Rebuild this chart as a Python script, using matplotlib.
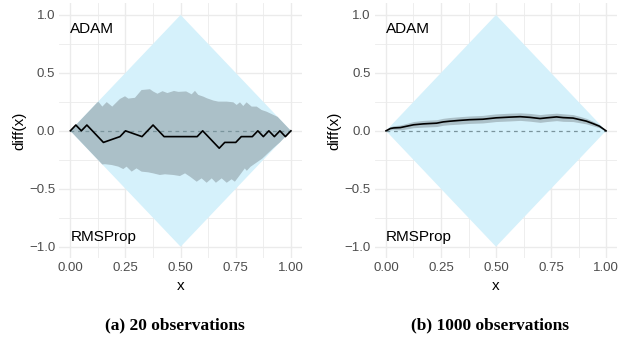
import matplotlib
matplotlib.use("Agg")
import matplotlib.pyplot as plt
import numpy as np

# diamond bounds of diff(x)
diamond_x = [0.0, 0.5, 1.0, 0.5]
diamond_y = [0.0, 1.0, 0.0, -1.0]

# (a) 20 observations
line20_x = [0, 0.025, 0.05, 0.075, 0.15, 0.225, 0.25, 0.325, 0.375, 0.425, 0.575, 0.6,
            0.675, 0.7, 0.75, 0.775, 0.825, 0.85, 0.875, 0.9, 0.925, 0.95, 0.975, 1.0]
line20_y = [0, 0.05, 0, 0.05, -0.10, -0.05, 0, -0.05, 0.05, -0.05, -0.05, 0,
            -0.15, -0.10, -0.10, -0.05, -0.05, 0, -0.05, 0, -0.05, 0, -0.05, 0]
upper20_x = [0, 0.12, 0.127, 0.145, 0.165, 0.19, 0.225, 0.248, 0.263, 0.293, 0.323, 0.361,
             0.376, 0.395, 0.418, 0.44, 0.47, 0.49, 0.525, 0.55, 0.565, 0.58, 0.603, 0.619,
             0.649, 0.671, 0.709, 0.739, 0.754, 0.769, 0.784, 0.799, 0.822, 0.845, 0.867,
             0.89, 0.94, 1.0]
upper20_y = [0, 0.24, 0.252, 0.209, 0.248, 0.209, 0.275, 0.298, 0.278, 0.285, 0.352, 0.359,
             0.339, 0.32, 0.342, 0.326, 0.344, 0.336, 0.34, 0.315, 0.345, 0.31, 0.295, 0.281,
             0.261, 0.252, 0.252, 0.246, 0.223, 0.246, 0.214, 0.246, 0.209, 0.209, 0.18,
             0.165, 0.12, 0]
lower20_x = [0, 0.145, 0.157, 0.188, 0.218, 0.24, 0.255, 0.278, 0.30, 0.323, 0.353, 0.376,
             0.406, 0.429, 0.467, 0.497, 0.52, 0.543, 0.573, 0.595, 0.618, 0.641, 0.66,
             0.686, 0.709, 0.731, 0.746, 0.769, 0.791, 0.80, 0.817, 0.87, 0.92, 0.95, 1.0]
lower20_y = [0, -0.29, -0.288, -0.295, -0.309, -0.33, -0.309, -0.352, -0.324, -0.352, -0.358,
             -0.367, -0.381, -0.375, -0.381, -0.39, -0.367, -0.396, -0.439, -0.41, -0.448,
             -0.41, -0.448, -0.41, -0.448, -0.418, -0.439, -0.381, -0.324, -0.345, -0.31,
             -0.24, -0.15, -0.1, 0]

# (b) 1000 observations
line1000_x = [0, 0.02, 0.035, 0.065, 0.095, 0.125, 0.17, 0.23, 0.26, 0.29, 0.335, 0.38, 0.44,
              0.47, 0.5, 0.56, 0.61, 0.655, 0.70, 0.73, 0.775, 0.805, 0.85, 0.88, 0.91, 0.94,
              0.97, 1.0]
line1000_y = [0, 0.02, 0.025, 0.028, 0.04, 0.052, 0.06, 0.066, 0.077, 0.083, 0.09, 0.096, 0.1,
              0.106, 0.112, 0.118, 0.122, 0.116, 0.106, 0.112, 0.12, 0.114, 0.11, 0.097, 0.084,
              0.063, 0.04, 0]
upper1000 = [0, 0.035, 0.045, 0.05, 0.065, 0.08, 0.09, 0.096, 0.108, 0.115, 0.122, 0.128, 0.133,
             0.14, 0.146, 0.152, 0.155, 0.15, 0.14, 0.146, 0.152, 0.147, 0.14, 0.125, 0.108,
             0.083, 0.053, 0]
lower1000 = [0, 0.008, 0.01, 0.008, 0.017, 0.027, 0.032, 0.037, 0.048, 0.053, 0.058, 0.064,
             0.068, 0.074, 0.08, 0.085, 0.09, 0.083, 0.073, 0.08, 0.088, 0.082, 0.08, 0.07, 0.06,
             0.043, 0.027, 0]

ticks = [0.0, 0.25, 0.5, 0.75, 1.0]
yticks = [-1.0, -0.5, 0.0, 0.5, 1.0]
captions = ["(a) 20 observations", "(b) 1000 observations"]

DIAMOND = "#d5f1fb"
BAND = "#abc0c8"
GRID = "#ebebeb"

plt.rcParams["font.family"] = ["Liberation Sans", "DejaVu Sans"]

fig = plt.figure(figsize=(6.19, 3.45), dpi=100)
ax1 = fig.add_axes([0.0958, 0.2513, 0.392, 0.739])
ax2 = fig.add_axes([0.6058, 0.2513, 0.391, 0.739])


def style(ax):
    ax.set_xlim(-0.05, 1.05)
    ax.set_ylim(-1.1, 1.1)
    ax.set_xticks(ticks)
    ax.set_xticklabels(["%.2f" % t for t in ticks])
    ax.set_yticks(yticks)
    ax.set_yticklabels(["\u22121.0", "\u22120.5", "0.0", "0.5", "1.0"])
    ax.set_xticks([0.125, 0.375, 0.625, 0.875], minor=True)
    ax.set_yticks([-0.75, -0.25, 0.25, 0.75], minor=True)
    ax.grid(which="major", color=GRID, lw=1.0)
    ax.grid(which="minor", color=GRID, lw=0.6)
    ax.set_axisbelow(True)
    for s in ax.spines.values():
        s.set_visible(False)
    ax.tick_params(which="both", length=0, labelsize=9.5, labelcolor="#4d4d4d", pad=3)
    ax.set_xlabel("x", fontsize=11, labelpad=3)
    ax.set_ylabel("diff(x)", fontsize=11, labelpad=2)
    ax.fill(diamond_x, diamond_y, color=DIAMOND, lw=0, zorder=1)
    ax.text(0.0, 0.88, "ADAM", fontsize=11, va="center", ha="left", zorder=5)
    ax.text(0.0, -0.915, "RMSProp", fontsize=11, va="center", ha="left", zorder=5)


style(ax1)
ax1.fill(upper20_x + lower20_x[::-1], upper20_y + lower20_y[::-1], color=BAND, lw=0, zorder=2)
ax1.plot([0, 1], [0, 0], ls=(0, (3, 3)), color="#7a949c", lw=0.9, zorder=3)
ax1.plot(line20_x, line20_y, color="black", lw=1.2, zorder=4)

style(ax2)
ax2.fill_between(line1000_x, lower1000, upper1000, color=BAND, lw=0, zorder=2)
ax2.plot([0, 1], [0, 0], ls=(0, (3, 3)), color="#7a949c", lw=0.9, zorder=3)
ax2.plot(line1000_x, line1000_y, color="black", lw=1.2, zorder=4)

for ax, cap in zip([ax1, ax2], captions):
    pos = ax.get_position()
    fig.text(pos.x0 + pos.width / 2 - 0.01, 0.058, cap, ha="center", va="center",
             fontsize=12.5, fontweight="bold", family=["Liberation Serif", "DejaVu Serif"])

fig.savefig("out.png", dpi=100)
